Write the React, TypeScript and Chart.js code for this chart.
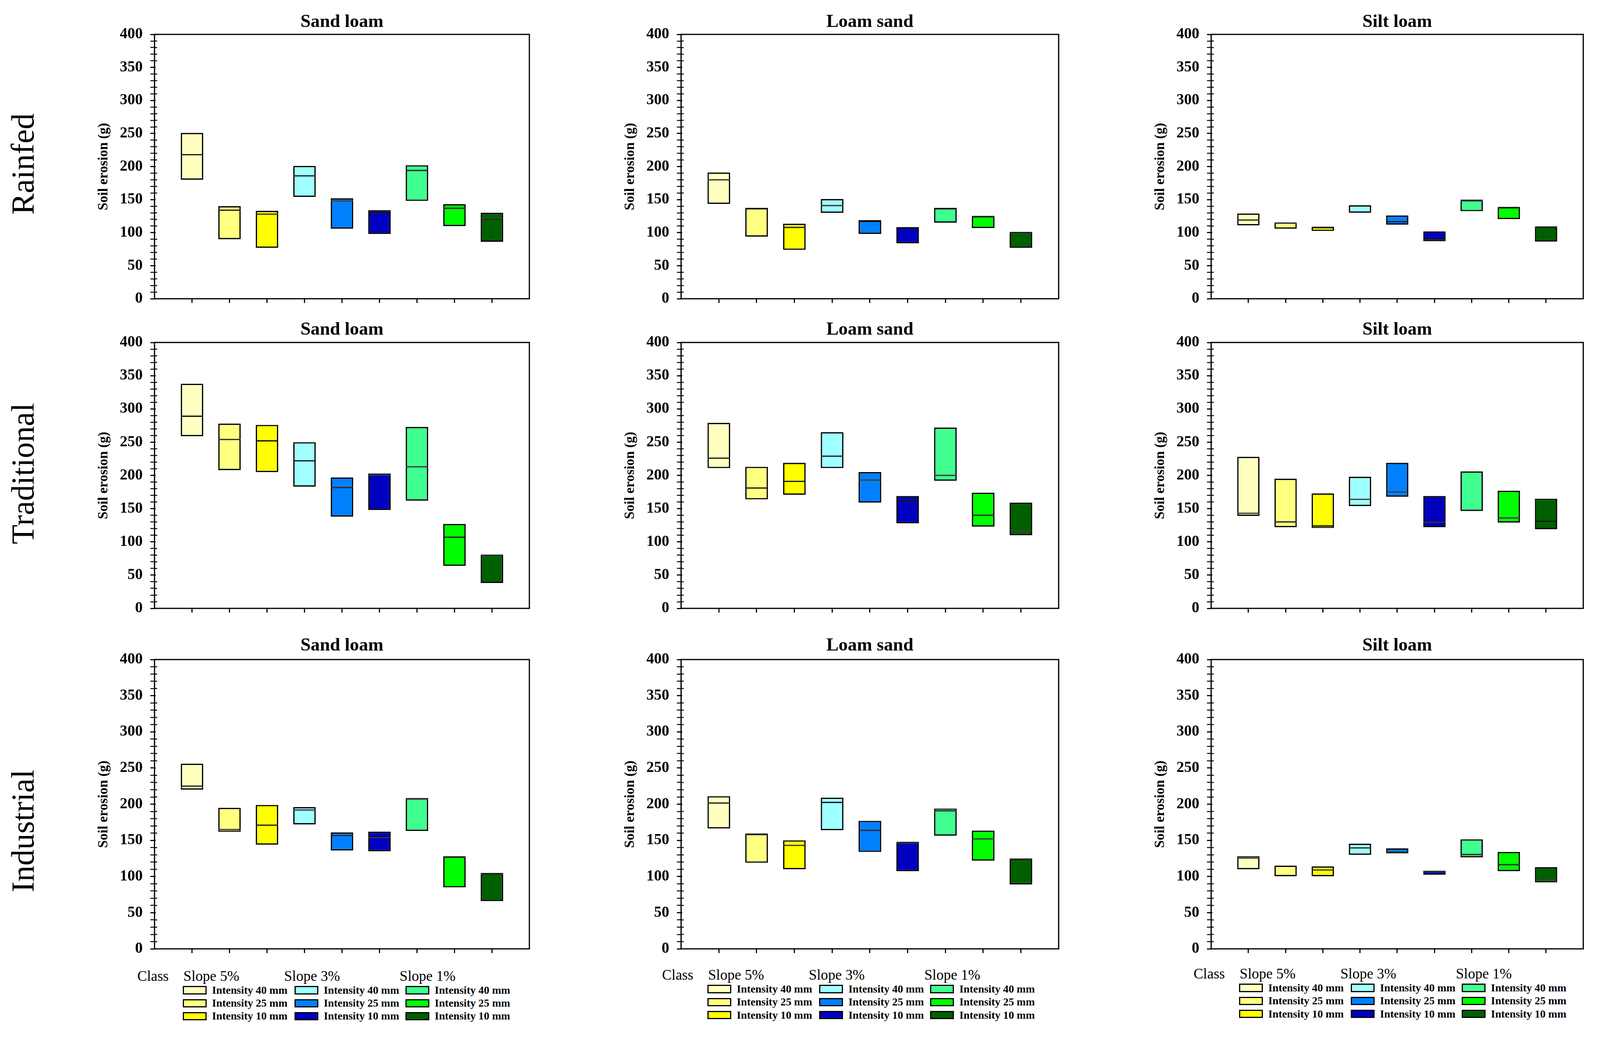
import React, { useEffect, useRef } from 'react';
import { Chart, registerables } from 'chart.js';

Chart.register(...registerables);

// ---------- data ----------
const categories = [
  'Slope 5% · Intensity 40 mm', 'Slope 5% · Intensity 25 mm', 'Slope 5% · Intensity 10 mm',
  'Slope 3% · Intensity 40 mm', 'Slope 3% · Intensity 25 mm', 'Slope 3% · Intensity 10 mm',
  'Slope 1% · Intensity 40 mm', 'Slope 1% · Intensity 25 mm', 'Slope 1% · Intensity 10 mm',
];
const boxColors = [
  '#FFFFC0', '#FFFF80', '#FFFF00',
  '#A0FFFF', '#0080FF', '#0000C0',
  '#40FF90', '#00FF00', '#006000',
];
const yMajorTicks = [0, 50, 100, 150, 200, 250, 300, 350, 400];
const panelTitles = ['Sand loam', 'Loam sand', 'Silt loam'];
const rowLabels = ['Rainfed', 'Traditional', 'Industrial'];
const legendGroups = ['Slope 5%', 'Slope 3%', 'Slope 1%'];
const legendIntensities = ['Intensity 40 mm', 'Intensity 25 mm', 'Intensity 10 mm'];
const yTitle = 'Soil erosion (g)';

// [low, middle line, high] per category
const rainfedSandLoam = [
  [180, 218, 251], [90, 134, 140], [77, 128, 133],
  [154, 186, 201], [106, 148, 152], [98, 130, 134],
  [148, 194, 202], [110, 137, 143], [86, 121, 130],
];
const rainfedLoamSand = [
  [143.5, 180, 191], [94, 136, 137.5], [74, 108, 113.5],
  [130, 141, 151], [98, 117, 119], [84, 107, 108.5],
  [115, 136, 137.5], [107, 124, 125.5], [77, 99.5, 101],
];
const rainfedSiltLoam = [
  [111, 119, 129], [106, 114.5, 115.5], [102.5, 107.5, 109],
  [130, 131.5, 141.5], [112, 116.5, 126], [87, 91, 102],
  [132.5, 148, 150], [120.5, 137.5, 139], [86.5, 108, 109.5],
];
const traditionalSandLoam = [
  [259, 289, 338], [208, 254, 278], [205, 252, 276],
  [183, 222, 250], [138, 182, 197], [148, 200.5, 203],
  [162, 213, 273], [64, 107, 127], [38, 79.5, 81],
];
const traditionalLoamSand = [
  [211, 226, 279], [164, 181, 213], [171, 191, 219],
  [211, 229, 265], [159, 193, 205], [128, 161, 169],
  [192, 200, 272], [123, 140, 174], [110, 117, 159],
];
const traditionalSiltLoam = [
  [139, 143, 228], [122, 130, 195], [121, 124, 173],
  [154, 164, 198], [168, 175, 219], [122, 130, 169],
  [146.5, 147.5, 206], [129, 136, 177], [119, 131, 165],
];
const industrialSandLoam = [
  [220, 225, 256], [162, 165, 195], [144, 171, 199],
  [172, 192, 196], [136, 157, 161], [135, 154, 162],
  [163, 207, 208.5], [85, 126.5, 128], [66, 103.5, 105],
];
const industrialLoamSand = [
  [166.5, 201.5, 211], [119, 158, 159.5], [110, 143, 150],
  [164, 202.5, 209], [134, 164, 177], [107.5, 146.5, 148],
  [156.5, 191, 194], [122, 152, 163.5], [89, 123.5, 125],
];
const industrialSiltLoam = [
  [110, 125.5, 128], [100.5, 114, 115], [100.5, 109, 114],
  [130, 139.5, 145.5], [132, 133.5, 139], [102.5, 107, 108],
  [126.5, 130.5, 151.5], [107.5, 116.5, 134], [92, 95.5, 113],
];

const panelData = [
  [rainfedSandLoam, rainfedLoamSand, rainfedSiltLoam],
  [traditionalSandLoam, traditionalLoamSand, traditionalSiltLoam],
  [industrialSandLoam, industrialLoamSand, industrialSiltLoam],
];

// ---------- layout (reference pixel space 4196 x 2707) ----------
const FONT = "'Liberation Serif', 'Times New Roman', serif";
const colPlots = [
  { left: 405, right: 1388 },
  { left: 1786, right: 2776 },
  { left: 3176, right: 4152 },
];
const rowPlots = [
  { top: 90, bottom: 797, gap: 32 },
  { top: 898, bottom: 1610, gap: 33 },
  { top: 1730, bottom: 2503, gap: 36 },
];
const rowLabelY = [430, 1243, 2180];
const legendOrigins = [
  { x: 360, y: 2561 },
  { x: 1736, y: 2558 },
  { x: 3130, y: 2555 },
];

function makeFramePlugin(K: number) {
  return {
    id: 'frame',
    afterDraw(chart: any) {
      const { ctx, chartArea } = chart;
      const yScale = chart.scales.y;
      ctx.save();
      ctx.strokeStyle = '#000';
      // inner part of the y tick marks (they cross the axis in the original)
      yScale.ticks.forEach((t: any) => {
        const py = yScale.getPixelForValue(t.value);
        const major = t.value % 50 === 0;
        ctx.lineWidth = (major ? 3 : 2.5) * K;
        ctx.beginPath();
        ctx.moveTo(chartArea.left, py);
        ctx.lineTo(chartArea.left + (major ? 3 : 7) * K, py);
        ctx.stroke();
      });
      ctx.lineWidth = 3.2 * K;
      ctx.strokeRect(chartArea.left, chartArea.top, chartArea.right - chartArea.left, chartArea.bottom - chartArea.top);
      ctx.restore();
    },
  };
}

function Panel({ data, title, plotLeft, plotRight, plotTop, plotBottom, gap, K }: any) {
  const ref = useRef<HTMLCanvasElement>(null);
  const left = (plotLeft - 185) * K;
  const top = (plotTop - 80) * K;
  const W = Math.round((plotRight - plotLeft + 185 + 8) * K);
  const H = Math.round((plotBottom - plotTop + 80 + 30) * K);
  useEffect(() => {
    const lower = data.map((d: number[], i: number) => ({ x: i + 1, y: [d[0], d[1]] }));
    const upper = data.map((d: number[], i: number) => ({ x: i + 1, y: [d[1], d[2]] }));
    const bw = 3.5 * K;
    const common = {
      backgroundColor: boxColors,
      borderColor: '#000',
      borderSkipped: false,
      grouped: false,
      categoryPercentage: 1,
      barPercentage: 0.6,
    };
    const titleTop = (51.2 - gap) * K;
    const titleBottom = 80 * K - titleTop - 57.6 * K;
    const chart = new Chart(ref.current as HTMLCanvasElement, {
      type: 'bar',
      data: {
        labels: categories,
        datasets: [
          { ...common, label: 'lower', data: lower, borderWidth: { top: bw / 2, bottom: bw, left: bw, right: bw } } as any,
          { ...common, label: 'upper', data: upper, borderWidth: { top: bw, bottom: bw / 2, left: bw, right: bw } } as any,
        ],
      },
      options: {
        animation: false,
        responsive: false,
        maintainAspectRatio: false,
        devicePixelRatio: 1,
        layout: { padding: { left: 0, top: 0, right: 8 * K, bottom: 0 } },
        plugins: {
          legend: { display: false },
          tooltip: { enabled: false },
          title: {
            display: true,
            text: title,
            fullSize: false,
            color: '#000',
            font: { family: FONT, size: 48 * K, weight: 'bold', lineHeight: 1.2 },
            padding: { top: titleTop, bottom: titleBottom },
          },
        },
        scales: {
          x: {
            type: 'linear',
            min: 0,
            max: 10,
            offset: false,
            ticks: { stepSize: 1, callback: () => '' },
            grid: { offset: false, drawOnChartArea: false, drawTicks: true, tickLength: 11 * K, tickWidth: 3 * K, tickColor: '#000' },
            border: { display: false },
            afterBuildTicks: (s: any) => {
              s.ticks = s.ticks.filter((t: any) => t.value >= 1 && t.value <= 9);
            },
            afterFit: (s: any) => {
              s.height = 30 * K;
            },
          },
          y: {
            type: 'linear',
            min: 0,
            max: 400,
            ticks: {
              stepSize: 10,
              autoSkip: false,
              padding: 20 * K,
              color: '#000',
              font: { family: FONT, size: 40 * K, weight: 'bold' },
              callback: (v: any) => (yMajorTicks.includes(Number(v)) ? String(v) : ''),
            },
            grid: {
              drawOnChartArea: false,
              drawTicks: true,
              tickLength: 11 * K,
              tickColor: '#000',
              tickWidth: (c: any) => (c.tick && c.tick.value % 50 === 0 ? 3 * K : 2.5 * K),
            },
            border: { display: false },
            title: {
              display: true,
              text: yTitle,
              color: '#000',
              font: { family: FONT, size: 36 * K, weight: 'bold', lineHeight: 1.2 },
              padding: { top: 31 * K, bottom: 0 },
            },
            afterFit: (s: any) => {
              s.width = 185 * K;
            },
          },
        },
      } as any,
      plugins: [makeFramePlugin(K)],
    });
    return () => chart.destroy();
  }, []);
  return (
    <canvas
      ref={ref}
      width={W}
      height={H}
      style={{ position: 'absolute', left, top, width: W, height: H }}
    />
  );
}

function Legend({ x, y, K }: { x: number; y: number; K: number }) {
  const headerXs = [121, 385, 688];
  const swatchXs = [119, 412, 703];
  const rowYs = [37, 71, 105];
  const text38: React.CSSProperties = {
    position: 'absolute',
    fontFamily: FONT,
    fontSize: 38 * K,
    lineHeight: 1,
    whiteSpace: 'nowrap',
    transform: 'translateY(-50%)',
    color: '#000',
  };
  const text28: React.CSSProperties = {
    position: 'absolute',
    fontFamily: FONT,
    fontSize: 28.5 * K,
    fontWeight: 'bold',
    lineHeight: 1,
    whiteSpace: 'nowrap',
    transform: 'translateY(-50%)',
    color: '#000',
  };
  return (
    <>
      <div style={{ ...text38, left: x * K, top: y * K }}>Class</div>
      {legendGroups.map((g, gi) => (
        <div key={'h' + gi} style={{ ...text38, left: (x + headerXs[gi]) * K, top: y * K }}>{g}</div>
      ))}
      {legendGroups.map((g, gi) =>
        legendIntensities.map((lab, li) => (
          <React.Fragment key={g + lab}>
            <div
              style={{
                position: 'absolute',
                left: (x + swatchXs[gi]) * K,
                top: (y + rowYs[li] - 11) * K,
                width: 63 * K,
                height: 22 * K,
                boxSizing: 'border-box',
                border: `${3.5 * K}px solid #000`,
                background: boxColors[gi * 3 + li],
              }}
            />
            <div style={{ ...text28, left: (x + swatchXs[gi] + 77) * K, top: (y + rowYs[li]) * K }}>{lab}</div>
          </React.Fragment>
        ))
      )}
    </>
  );
}

export default function App() {
  const iw = typeof window !== 'undefined' ? window.innerWidth : 4196;
  const K = Math.min(1, iw / 4196);
  return (
    <div style={{ position: 'relative', width: 4196 * K, height: 2707 * K, background: '#fff', overflow: 'hidden' }}>
      <style>{'body{margin:0}'}</style>
      {rowLabels.map((r, ri) => (
        <div
          key={r}
          style={{
            position: 'absolute',
            left: 60 * K,
            top: rowLabelY[ri] * K,
            fontFamily: FONT,
            fontSize: 84 * K,
            lineHeight: 1,
            whiteSpace: 'nowrap',
            color: '#000',
            transform: 'translate(-50%, -50%) rotate(-90deg)',
          }}
        >
          {r}
        </div>
      ))}
      {rowPlots.map((rp, ri) =>
        colPlots.map((cp, ci) => (
          <Panel
            key={ri + '-' + ci}
            data={panelData[ri][ci]}
            title={panelTitles[ci]}
            plotLeft={cp.left}
            plotRight={cp.right}
            plotTop={rp.top}
            plotBottom={rp.bottom}
            gap={rp.gap}
            K={K}
          />
        ))
      )}
      {legendOrigins.map((o, i) => (
        <Legend key={i} x={o.x} y={o.y} K={K} />
      ))}
    </div>
  );
}
